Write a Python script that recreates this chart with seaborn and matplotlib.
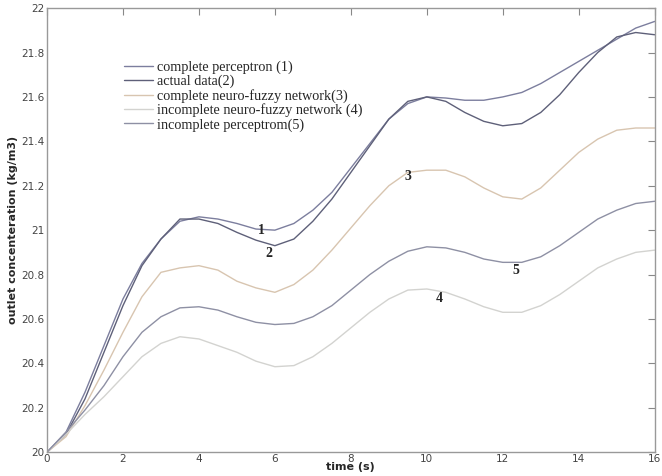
import numpy as np
import pandas as pd
import matplotlib
matplotlib.use("Agg")
import matplotlib.pyplot as plt
import seaborn as sns

# time axis (s)
t = [0, 0.5, 1, 1.5, 2, 2.5, 3, 3.5, 4, 4.5, 5, 5.5, 6, 6.5, 7, 7.5, 8,
     8.5, 9, 9.5, 10, 10.5, 11, 11.5, 12, 12.5, 13, 13.5, 14, 14.5, 15, 15.5, 16]

complete_perceptron = [20.0, 20.09, 20.27, 20.48, 20.69, 20.85, 20.96, 21.04, 21.06, 21.05, 21.03, 21.005, 21.0,
                       21.03, 21.09, 21.17, 21.28, 21.39, 21.5, 21.57, 21.6, 21.595, 21.585, 21.585, 21.6,
                       21.62, 21.66, 21.71, 21.76, 21.81, 21.86, 21.91, 21.94]
actual_data = [20.0, 20.08, 20.24, 20.45, 20.66, 20.84, 20.96, 21.05, 21.05, 21.03, 20.99, 20.955, 20.93,
               20.96, 21.04, 21.14, 21.26, 21.38, 21.5, 21.58, 21.6, 21.58, 21.53, 21.49, 21.47,
               21.48, 21.53, 21.61, 21.71, 21.8, 21.87, 21.89, 21.88]
complete_nf = [20.0, 20.07, 20.21, 20.37, 20.54, 20.7, 20.81, 20.83, 20.84, 20.82, 20.77, 20.74, 20.72,
               20.755, 20.82, 20.91, 21.01, 21.11, 21.2, 21.26, 21.27, 21.27, 21.24, 21.19, 21.15,
               21.14, 21.19, 21.27, 21.35, 21.41, 21.45, 21.46, 21.46]
incomplete_nf = [20.0, 20.08, 20.17, 20.25, 20.34, 20.43, 20.49, 20.52, 20.51, 20.48, 20.45, 20.41, 20.385,
                 20.39, 20.43, 20.49, 20.56, 20.63, 20.69, 20.73, 20.735, 20.72, 20.69, 20.655, 20.63,
                 20.63, 20.66, 20.71, 20.77, 20.83, 20.87, 20.9, 20.91]
incomplete_perceptron = [20.0, 20.09, 20.19, 20.3, 20.43, 20.54, 20.61, 20.65, 20.655, 20.64, 20.61, 20.585, 20.575,
                         20.58, 20.61, 20.66, 20.73, 20.8, 20.86, 20.905, 20.925, 20.92, 20.9, 20.87, 20.855,
                         20.855, 20.88, 20.93, 20.99, 21.05, 21.09, 21.12, 21.13]

labels = ["complete perceptron (1)", "actual data(2)", "complete neuro-fuzzy network(3)",
          "incomplete neuro-fuzzy network (4)", "incomplete perceptrom(5)"]
series = [complete_perceptron, actual_data, complete_nf, incomplete_nf, incomplete_perceptron]
colors = ["#7c7e9e", "#5e6079", "#d8c5b0", "#d3d3d0", "#8e90a4"]

# curve numbers placed on the plot
tags = ["1", "2", "3", "4", "5"]
tag_x = [5.65, 5.83, 9.5, 10.34, 12.35]
tag_y = [21.0, 20.895, 21.24, 20.69, 20.82]

df = pd.DataFrame({"t": t * 5,
                   "value": sum(series, []),
                   "series": sum([[l] * len(t) for l in labels], [])})

sns.set_style("white")
fig = plt.figure(figsize=(6.62, 4.76), dpi=100)
ax = fig.add_axes([0.071, 0.05, 0.918, 0.933])
sns.lineplot(data=df, x="t", y="value", hue="series", hue_order=labels,
             palette=colors, linewidth=1.0, ax=ax, legend=True)

for s, x, y in zip(tags, tag_x, tag_y):
    ax.text(x, y, s, fontsize=10, fontweight="bold", family="Liberation Serif",
            ha="center", va="center")

ax.set_xlim(0, 16)
ax.set_ylim(20, 22)
ax.set_xticks(np.arange(0, 17, 2))
ax.set_yticks(np.arange(20, 22.01, 0.2))
ax.set_yticklabels(["20", "20.2", "20.4", "20.6", "20.8", "21", "21.2", "21.4", "21.6", "21.8", "22"])
ax.tick_params(direction="in", length=5, width=0.8, colors="#888888", labelsize=7.5,
               top=True, right=True, labelcolor="#444444")
ax.tick_params(axis="x", pad=1)
ax.tick_params(axis="y", pad=2)
for sp in ax.spines.values():
    sp.set_color("#999999")
    sp.set_linewidth(1.0)
ax.set_xlabel("time (s)", fontsize=8, fontweight="bold", labelpad=-1)
ax.set_ylabel("outlet concenteration (kg/m3)", fontsize=8, fontweight="bold", labelpad=2)

leg = ax.legend(frameon=False, loc="upper left", bbox_to_anchor=(0.118, 0.895),
                prop={"family": "Liberation Serif", "size": 10.3},
                handlelength=2.0, handletextpad=0.3, labelspacing=0.05, borderaxespad=0)

fig.savefig("out.png", dpi=100)
